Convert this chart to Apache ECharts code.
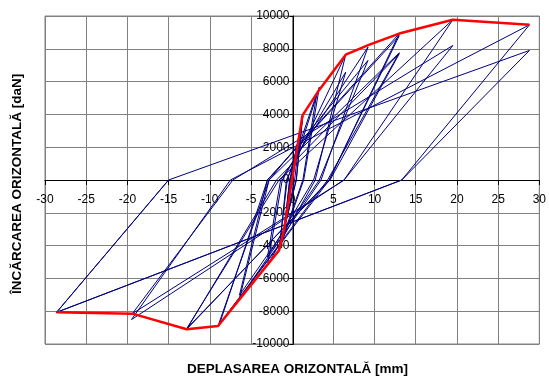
<!DOCTYPE html>
<html>
<head>
<meta charset="utf-8">
<script src="https://cdn.jsdelivr.net/npm/echarts@6/dist/echarts.min.js"></script>
<style>
  html, body { margin: 0; padding: 0; background: #fff; }
  #main { width: 549px; height: 379px; }
</style>
</head>
<body>
<div id="main"></div>
<script>
var dom = document.getElementById('main');
var myChart = echarts.init(dom);

// red envelope (backbone curve)
var envX = [-28.6, -19.4, -12.8, -9.0, -1.6, -1.0, 1.25, 3.1, 6.5, 9.3, 13.0, 19.5, 28.8];
var envY = [-8070, -8150, -9100, -8900, -4290, -3070, 3940, 5360, 7640, 8240, 8930, 9770, 9460];

// blue hysteresis loops, in test order
var loopX = [0, 1.0, 0.3, -0.7, -0.2,
  1.3, 0.5, -1.0, -0.3, 1.2, 0.5, -0.9, -0.3,
  3.3, 1.4, -1.6, -0.6, 3.0, 1.3, -1.5, -0.7,
  6.5, 2.8, -3.0, -1.2, 6.5, 2.6, -3.0, -1.4,
  9.2, 3.5, -6.4, -2.8, 9.2, 3.3, -6.4, -3.0,
  13.0, 4.5, -9.0, -2.8, 13.0, 4.3, -8.8, -3.0,
  13.0, 4.5, -12.8, -1.9, 13.0, 4.6, -12.8, -1.6,
  19.5, 6.3, -19.4, -7.2, 19.5, 6.3, -19.5, -7.5,
  28.8, 13.3, -28.6, -15.0, 28.8, 13.3, -28.6, -15.0];
var loopY = [0, 3000, 0, -2400, 0,
  3900, 0, -3070, 0, 3600, 0, -2800, 0,
  5660, 0, -4290, 0, 5300, 0, -4000, 0,
  7640, 0, -5200, 0, 6580, 0, -4700, 0,
  8100, 0, -7250, 0, 7290, 0, -7030, 0,
  8930, 0, -8900, 0, 7760, 0, -8760, 0,
  8800, 0, -9100, 0, 7700, 0, -9060, 0,
  9770, 0, -8150, 0, 8200, 0, -8510, 0,
  9460, 0, -8070, 0, 7900, 0, -8070, 0];

var xTicks = [-30, 30, 5];
var yTicks = [-10000, 10000, 2000];

function pairs(xs, ys) {
  var res = [];
  for (var i = 0; i < xs.length; i++) res.push([xs[i], ys[i]]);
  return res;
}

var gridBox = { left: 45, right: 7, top: 16, bottom: 35 };
var plotW = 549 - gridBox.left - gridBox.right;
var plotH = 379 - gridBox.top - gridBox.bottom;

var axisText = { color: '#000', fontSize: 12, fontFamily: 'Liberation Sans, Arial',
  formatter: function (v) { return String(v); } };
var titleFont = 'bold 13.5px "Liberation Sans", Arial';

option = {
  backgroundColor: '#fff',
  animation: false,
  grid: { left: gridBox.left, right: gridBox.right, top: gridBox.top, bottom: gridBox.bottom,
    show: true, borderColor: '#808080', borderWidth: 1 },
  xAxis: {
    type: 'value', min: xTicks[0], max: xTicks[1], interval: xTicks[2],
    position: 'bottom',
    // the axis sits on y = 0, as in the original
    offset: -plotH * (0 - yTicks[0]) / (yTicks[1] - yTicks[0]),
    axisLine: { onZero: false, lineStyle: { color: '#000', width: 1 } },
    axisTick: { show: true, length: 5, lineStyle: { color: '#000' } },
    axisLabel: Object.assign({ margin: 14, showMinLabel: true, showMaxLabel: true }, axisText),
    splitLine: { show: true, lineStyle: { color: '#808080', width: 1 } }
  },
  yAxis: {
    type: 'value', min: yTicks[0], max: yTicks[1], interval: yTicks[2],
    position: 'left',
    offset: -plotW * (0 - xTicks[0]) / (xTicks[1] - xTicks[0]),
    axisLine: { onZero: false, lineStyle: { color: '#000', width: 1 } },
    axisTick: { show: true, length: 4, lineStyle: { color: '#000' } },
    axisLabel: Object.assign({ margin: 4, showMinLabel: true, showMaxLabel: true }, axisText),
    splitLine: { show: true, lineStyle: { color: '#808080', width: 1 } }
  },
  graphic: [
    { type: 'text', left: 187, top: 362,
      style: { text: 'DEPLASAREA ORIZONTALĂ [mm]', fill: '#000', font: titleFont } },
    { type: 'text', x: 10, y: 294, rotation: Math.PI / 2,
      style: { text: 'ÎNCĂRCAREA ORIZONTALĂ [daN]', fill: '#000', font: titleFont } }
  ],
  series: [
    { type: 'line', data: pairs(loopX, loopY), showSymbol: false, symbol: 'none',
      lineStyle: { color: '#000080', width: 1 }, z: 2 },
    { type: 'line', data: pairs(envX, envY), showSymbol: false, symbol: 'none',
      lineStyle: { color: '#ff0000', width: 2.5 }, z: 3 }
  ]
};
myChart.setOption(option);
</script>
</body>
</html>
